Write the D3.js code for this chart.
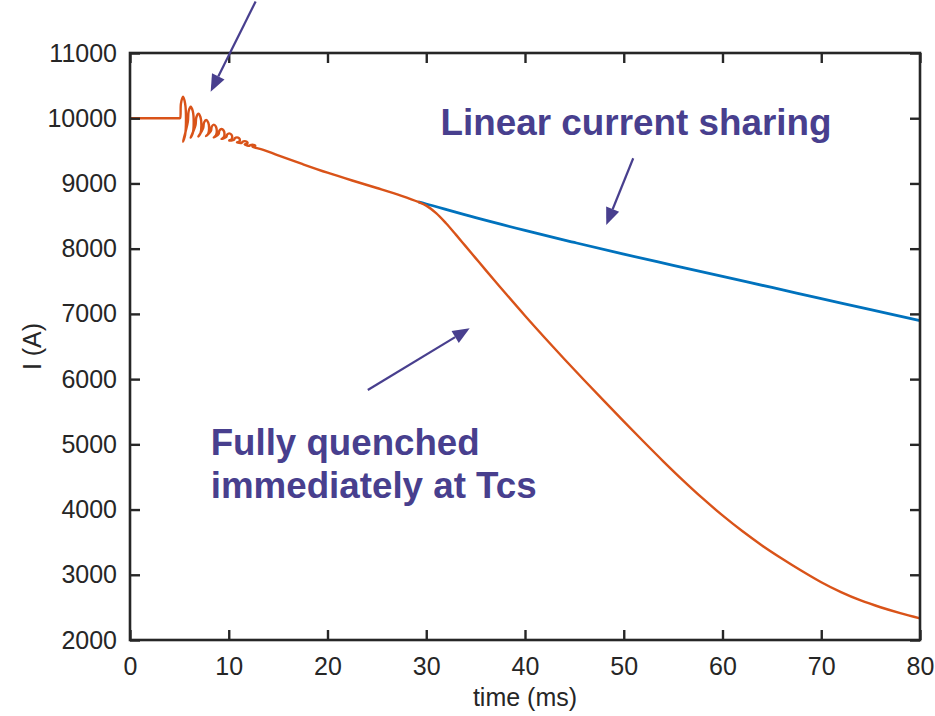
<!DOCTYPE html>
<html>
<head>
<meta charset="utf-8">
<script src="https://cdn.jsdelivr.net/npm/d3@7/dist/d3.min.js"></script>
<style>
  html, body { margin: 0; padding: 0; background: #ffffff; }
  svg { display: block; font-family: "Liberation Sans", Arial, sans-serif; }
</style>
</head>
<body>
<svg id="chart" width="935" height="716"></svg>
<script>
// Common current trace (ms, A): flat start, ringing after the trigger
// (each ring traced as a small loop), then the slow decay up to Tcs
const sharedTime = [
  0, 4.98,
  5.07, 5.16, 5.37, 5.58, 5.67, 5.58, 5.37,
  5.85, 5.94, 6.15, 6.36, 6.45, 6.36, 6.15,
  6.63, 6.72, 6.93, 7.14, 7.23, 7.14, 6.93,
  7.41, 7.50, 7.71, 7.92, 8.01, 7.92, 7.71,
  8.19, 8.28, 8.49, 8.70, 8.79, 8.70, 8.49,
  8.97, 9.06, 9.27, 9.48, 9.57, 9.48, 9.27,
  9.75, 9.84, 10.05, 10.26, 10.35, 10.26, 10.05,
  10.53, 10.62, 10.83, 11.04, 11.13, 11.04, 10.83,
  11.31, 11.40, 11.61, 11.82, 11.91, 11.82, 11.61,
  12.09, 12.18, 12.39, 12.60, 12.69, 12.60, 12.39,
  13.5, 15, 17.5, 20, 22.5, 25, 27.5, 29.2
];
const sharedCurrent = [
  10000, 10000,
  10000, 10227, 10330, 10227, 9985, 9743, 9640,
  9940, 10107, 10178, 10107, 9940, 9773, 9702,
  9894, 10015, 10068, 10015, 9894, 9773, 9720,
  9849, 9935, 9972, 9935, 9849, 9763, 9726,
  9804, 9872, 9902, 9872, 9804, 9736, 9706,
  9758, 9812, 9835, 9812, 9758, 9704, 9681,
  9713, 9751, 9768, 9751, 9713, 9675, 9658,
  9668, 9695, 9706, 9695, 9668, 9641, 9630,
  9623, 9641, 9649, 9641, 9623, 9605, 9597,
  9577, 9588, 9593, 9588, 9577, 9566, 9561,
  9515, 9430, 9295, 9165, 9045, 8930, 8810, 8716
];

// Branch: linear current sharing after Tcs
const sharingTime    = [29.2, 30, 35, 40, 45, 50, 55, 60, 65, 70, 75, 80];
const sharingCurrent = [8716, 8685, 8475, 8280, 8095, 7915, 7745, 7575, 7405, 7235, 7065, 6895];

// Branch: fully quenched immediately at Tcs
const quenchTime = [30, 31, 32, 33, 34, 35, 36, 37, 38, 40, 42, 44, 46, 48, 50, 52, 54, 56, 58, 60,
                    62, 64, 66, 68, 70, 72, 74, 76, 78, 80];
const quenchCurrent = [8660, 8545, 8390, 8215, 8035, 7855, 7675, 7497, 7320, 6972, 6635, 6305, 5983,
                       5666, 5352, 5043, 4740, 4448, 4170, 3910, 3670, 3450, 3250, 3062, 2886, 2734,
                       2606, 2502, 2412, 2332];

const xTicks = [0, 10, 20, 30, 40, 50, 60, 70, 80];
const yTicks = [2000, 3000, 4000, 5000, 6000, 7000, 8000, 9000, 10000, 11000];

// Annotation text and arrows, placed in data units (ms, A)
const notes = [
  { lines: ["Linear current sharing"], t: 31.45, i: 9745, len: [391] },
  { lines: ["Fully quenched", "immediately at Tcs"], t: 8.17, i: 4840, len: [269, 326] }
];
const arrows = [
  { from: [12.72, 11790], to: [8.17, 10407] },
  { from: [50.96, 9386],  to: [48.23, 8363] },
  { from: [24.08, 5833],  to: [34.40, 6779] }
];

const W = 935, H = 716;
const margin = { left: 130, right: 15, top: 53, bottom: 76 };
const axisColor = "#262626";
const noteColor = "#483f8e";
const orange = "#d95319";
const blue = "#0072bd";

const svg = d3.select("#chart");

const x = d3.scaleLinear().domain([0, 80]).range([margin.left, W - margin.right]);
const y = d3.scaleLinear().domain([2000, 11000]).range([H - margin.bottom, margin.top]);

const sharedPts = sharedTime.map((t, k) => [t, sharedCurrent[k]]);
const quenchPts = sharedPts.concat(quenchTime.map((t, k) => [t, quenchCurrent[k]]));
const sharingPts = sharingTime.map((t, k) => [t, sharingCurrent[k]]);

const line = d3.line()
  .x(d => x(d[0]))
  .y(d => y(d[1]))
  .curve(d3.curveCatmullRom.alpha(0.5));

svg.append("path")
  .datum(sharingPts)
  .attr("d", line)
  .attr("fill", "none")
  .attr("stroke", blue)
  .attr("stroke-width", 2.8)
  .attr("stroke-linejoin", "round");

svg.append("path")
  .datum(quenchPts)
  .attr("d", line)
  .attr("fill", "none")
  .attr("stroke", orange)
  .attr("stroke-width", 2.4)
  .attr("stroke-linejoin", "round");

// Axes: labelled left/bottom, unlabelled top/right, ticks pointing inwards
const tickLen = 10;
const fontSize = 25;

const gx = svg.append("g")
  .attr("transform", `translate(0,${y.range()[0]})`)
  .call(d3.axisBottom(x).tickValues(xTicks).tickSize(-tickLen).tickSizeOuter(0).tickPadding(17)
    .tickFormat(d3.format("d")));
const gy = svg.append("g")
  .attr("transform", `translate(${x.range()[0]},0)`)
  .call(d3.axisLeft(y).tickValues(yTicks).tickSize(-tickLen).tickSizeOuter(0).tickPadding(13)
    .tickFormat(d3.format("d")));
const gt = svg.append("g")
  .attr("transform", `translate(0,${y.range()[1]})`)
  .call(d3.axisTop(x).tickValues(xTicks).tickSize(-tickLen).tickSizeOuter(0).tickFormat(""));
const gr = svg.append("g")
  .attr("transform", `translate(${x.range()[1]},0)`)
  .call(d3.axisRight(y).tickValues(yTicks).tickSize(-tickLen).tickSizeOuter(0).tickFormat(""));

[gx, gy, gt, gr].forEach(g => {
  g.select(".domain").remove();
  g.selectAll(".tick line").attr("stroke", axisColor).attr("stroke-width", 2.4);
  g.selectAll(".tick text")
    .attr("fill", axisColor)
    .style("font-size", fontSize + "px")
    .style("font-family", "'Liberation Sans', Arial, sans-serif");
});

svg.append("rect")
  .attr("x", x.range()[0])
  .attr("y", y.range()[1])
  .attr("width", x.range()[1] - x.range()[0])
  .attr("height", y.range()[0] - y.range()[1])
  .attr("fill", "none")
  .attr("stroke", axisColor)
  .attr("stroke-width", 2.6);

// Axis titles
svg.append("text")
  .attr("x", (x.range()[0] + x.range()[1]) / 2)
  .attr("y", 706)
  .attr("text-anchor", "middle")
  .attr("fill", axisColor)
  .style("font-size", fontSize + "px")
  .text("time (ms)");

svg.append("text")
  .attr("transform", `translate(41,${(y.range()[0] + y.range()[1]) / 2}) rotate(-90)`)
  .attr("text-anchor", "middle")
  .attr("fill", axisColor)
  .style("font-size", fontSize + "px")
  .text("I (A)");

// Annotations
notes.forEach(n => {
  n.lines.forEach((s, k) => {
    svg.append("text")
      .attr("x", x(n.t))
      .attr("y", y(n.i) + k * 43)
      .attr("fill", noteColor)
      .attr("font-weight", "bold")
      .attr("textLength", n.len[k])
      .attr("lengthAdjust", "spacingAndGlyphs")
      .style("font-size", "36.5px")
      .text(s);
  });
});

arrows.forEach(a => {
  const x1 = x(a.from[0]), y1 = y(a.from[1]);
  const x2 = x(a.to[0]), y2 = y(a.to[1]);
  const ang = Math.atan2(y2 - y1, x2 - x1);
  const headLen = 17, headHalf = 7;
  const bx = x2 - headLen * Math.cos(ang), by = y2 - headLen * Math.sin(ang);
  svg.append("line")
    .attr("x1", x1).attr("y1", y1)
    .attr("x2", bx).attr("y2", by)
    .attr("stroke", noteColor)
    .attr("stroke-width", 2.2);
  const px = -Math.sin(ang), py = Math.cos(ang);
  svg.append("path")
    .attr("d", `M${x2},${y2}L${bx + px * headHalf},${by + py * headHalf}L${bx - px * headHalf},${by - py * headHalf}Z`)
    .attr("fill", noteColor);
});
</script>
</body>
</html>
